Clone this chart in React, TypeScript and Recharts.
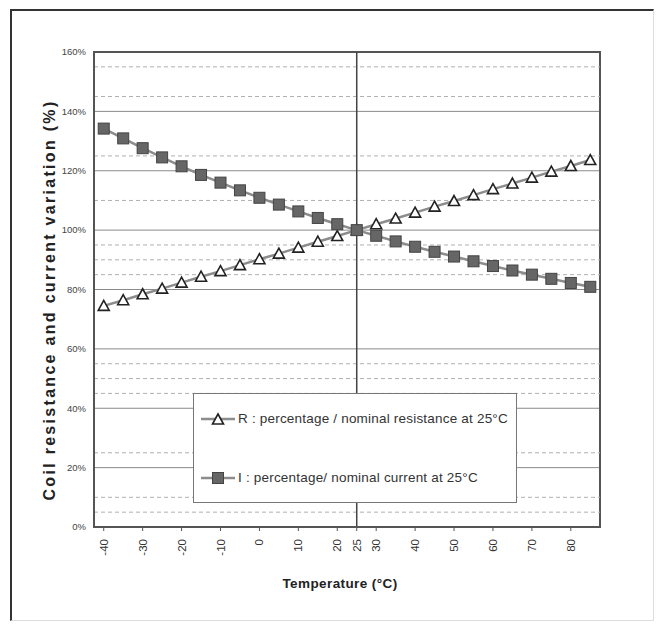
import React from "react";
import {
  LineChart,
  Line,
  XAxis,
  YAxis,
  CartesianGrid,
  ReferenceLine,
  ReferenceArea,
} from "recharts";

const TEMPS = [-40, -35, -30, -25, -20, -15, -10, -5, 0, 5, 10, 15, 20, 25, 30, 35, 40, 45, 50, 55, 60, 65, 70, 75, 80, 85];
const R_PCT = [74.5, 76.4, 78.4, 80.3, 82.3, 84.3, 86.2, 88.2, 90.2, 92.1, 94.1, 96.1, 98.0, 100, 102.0, 103.9, 105.9, 107.9, 109.8, 111.8, 113.8, 115.7, 117.7, 119.7, 121.6, 123.6];
const I_PCT = [134.2, 130.9, 127.6, 124.5, 121.5, 118.6, 116.0, 113.4, 110.9, 108.6, 106.3, 104.1, 102.0, 100, 98.1, 96.2, 94.4, 92.7, 91.1, 89.5, 87.9, 86.4, 85.0, 83.6, 82.2, 80.9];

const X_TICKS = [-40, -30, -20, -10, 0, 10, 20, 25, 30, 40, 50, 60, 70, 80];
const Y_TICKS = [0, 20, 40, 60, 80, 100, 120, 140, 160];
const DASHED = [5, 10, 25, 45, 50, 55, 85, 90, 95, 110, 125, 145, 155];

const data = TEMPS.map((t, k) => ({ t, r: R_PCT[k], i: I_PCT[k] }));

const FONT = "'Liberation Sans', Arial, sans-serif";

const Triangle = (props: any) => {
  const { cx, cy } = props;
  if (cx == null || cy == null) return null;
  return (
    <path
      d={`M${cx},${cy - 5.5} L${cx + 5.5},${cy + 4.5} L${cx - 5.5},${cy + 4.5} Z`}
      fill="#fff"
      stroke="#222"
      strokeWidth={1.6}
    />
  );
};

const Square = (props: any) => {
  const { cx, cy } = props;
  if (cx == null || cy == null) return null;
  return <rect x={cx - 5.5} y={cy - 5.5} width={11} height={11} fill="#666" stroke="#444" strokeWidth={1} />;
};

const RotTick = (props: any) => {
  const { x, y, payload } = props;
  return (
    <g transform={`translate(${x},${y + 6})`}>
      <text
        transform="rotate(-90)"
        textAnchor="end"
        dy="0.35em"
        fontSize={11.5}
        fontFamily={FONT}
        fill="#333"
      >
        {payload.value}
      </text>
    </g>
  );
};

function LegendIcon({ square }: { square?: boolean }) {
  return (
    <svg width={34} height={14} style={{ display: "block" }}>
      <line x1={0} y1={7} x2={34} y2={7} stroke="#8c8c8c" strokeWidth={2.5} />
      {square ? <Square cx={17} cy={7} /> : <Triangle cx={17} cy={7.5} />}
    </svg>
  );
}

export default function App() {
  return (
    <div style={{ position: "relative", width: 646, height: 617, fontFamily: FONT }}>
      <div
        style={{
          position: "absolute",
          left: 2,
          top: 1,
          width: 644,
          height: 612,
          borderTop: "2px solid #333",
          borderLeft: "2px solid #333",
          borderRight: "1px solid #ddd",
          borderBottom: "1px solid #ddd",
          boxSizing: "border-box",
        }}
      />
      <div style={{ position: "absolute", left: 0, top: 0 }}>
        <LineChart width={646} height={610} data={data} margin={{ top: 44, right: 54, left: 0, bottom: 51 }}>
          <CartesianGrid vertical={false} stroke="#8a8a8a" strokeWidth={1} />
          {DASHED.map((v) => (
            <ReferenceLine key={v} y={v} stroke="#b0b0b0" strokeDasharray="4 3" />
          ))}
          <ReferenceArea x1={-42.5} x2={87.5} y1={0} y2={160} fill="none" stroke="#555" strokeWidth={2} />
          <ReferenceLine x={25} stroke="#444" strokeWidth={1.5} />
          <XAxis
            type="number"
            dataKey="t"
            domain={[-42.5, 87.5]}
            ticks={X_TICKS}
            interval={0}
            tick={<RotTick />}
            tickLine={{ stroke: "#555" }}
            tickSize={4}
            axisLine={{ stroke: "#555", strokeWidth: 2 }}
            height={40}
          />
          <YAxis
            type="number"
            domain={[0, 160]}
            ticks={Y_TICKS}
            interval={0}
            width={86}
            tickFormatter={(v) => `${v}%`}
            tick={{ fontSize: 9.5, fill: "#444", fontFamily: FONT }}
            tickLine={false}
            axisLine={{ stroke: "#555", strokeWidth: 2 }}
          />
          <Line
            dataKey="r"
            stroke="#8c8c8c"
            strokeWidth={2.5}
            dot={<Triangle />}
            activeDot={false}
            isAnimationActive={false}
          />
          <Line
            dataKey="i"
            stroke="#8c8c8c"
            strokeWidth={2.5}
            dot={<Square />}
            activeDot={false}
            isAnimationActive={false}
          />
        </LineChart>
      </div>

      <div
        style={{
          position: "absolute",
          left: 185,
          top: 385,
          width: 324,
          height: 110,
          background: "#fff",
          border: "1px solid #777",
          boxSizing: "border-box",
          fontSize: 13.5,
          letterSpacing: 0.2,
          color: "#333",
        }}
      >
        <div style={{ position: "absolute", left: 7, top: 17, display: "flex", alignItems: "center", gap: 3, whiteSpace: "nowrap" }}>
          <LegendIcon />
          <span>R : percentage / nominal resistance at 25°C</span>
        </div>
        <div style={{ position: "absolute", left: 7, top: 76, display: "flex", alignItems: "center", gap: 3, whiteSpace: "nowrap" }}>
          <LegendIcon square />
          <span>I : percentage/ nominal current at 25°C</span>
        </div>
      </div>

      <div
        style={{
          position: "absolute",
          left: 42,
          top: 292,
          transform: "translate(-50%, -50%) rotate(-90deg)",
          whiteSpace: "nowrap",
          fontWeight: "bold",
          fontSize: 16,
          letterSpacing: 2.3,
          color: "#222",
        }}
      >
        Coil resistance and current variation (%)
      </div>
      <div
        style={{
          position: "absolute",
          left: 332,
          top: 575,
          transform: "translate(-50%, -50%)",
          whiteSpace: "nowrap",
          fontWeight: "bold",
          fontSize: 13.5,
          letterSpacing: 0.4,
          color: "#222",
        }}
      >
        Temperature (°C)
      </div>
    </div>
  );
}
